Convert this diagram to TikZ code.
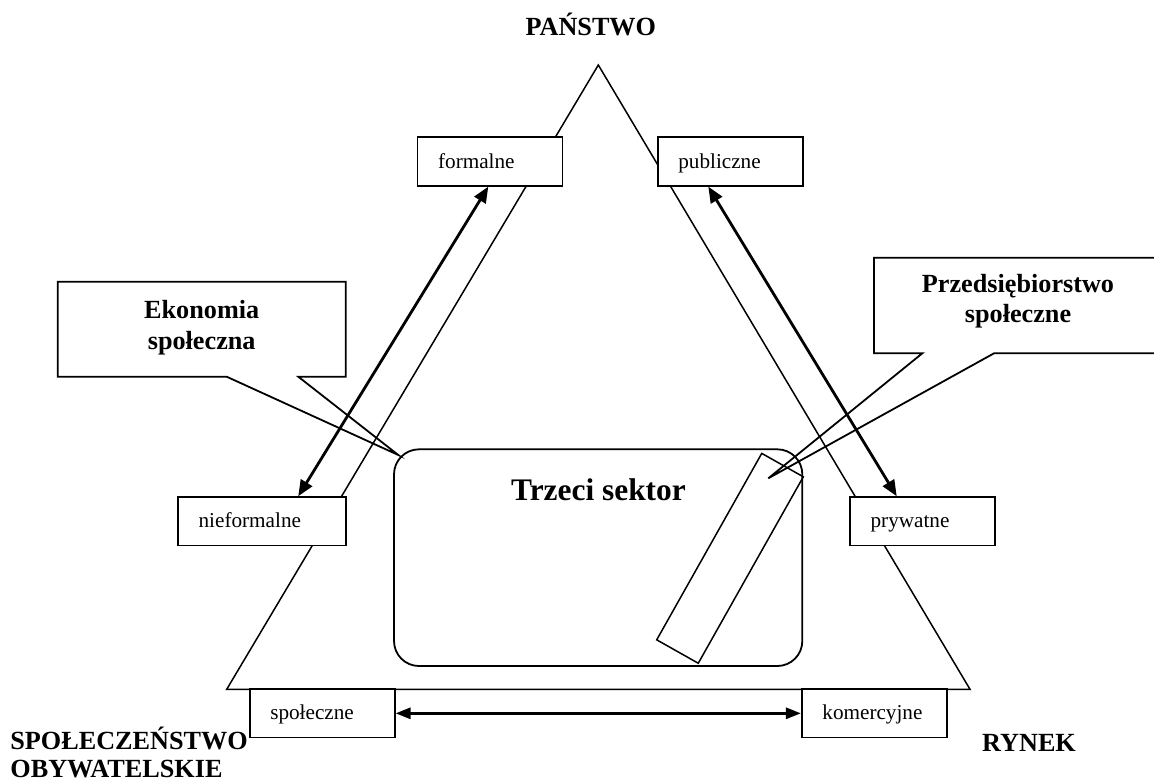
\documentclass[tikz,border=0pt]{standalone}
\usepackage{fontspec}
\setmainfont{Liberation Serif}
\usetikzlibrary{arrows.meta}
\begin{document}
\begin{tikzpicture}[x=0.5pt,y=-0.5pt,
  edgeline/.style={line width=0.75pt},
  boxst/.style={draw, line width=0.9pt, fill=white, minimum height=24.2pt,
    inner xsep=10.3pt, inner ysep=0pt, align=left, text width=51.9pt,
    text height=0.7em, text depth=0.05em, font=\fontsize{10.6}{12}\selectfont},
  lbl/.style={font=\fontsize{13.1}{14}\selectfont\bfseries, inner sep=0pt},
  calloutbox/.style={line width=0.9pt},
  dblarrow/.style={line width=1.4pt, {Triangle[length=8pt,width=6.5pt]}-{Triangle[length=8pt,width=6.5pt]}},
  botarrow/.style={line width=1.4pt, {Triangle[length=7.5pt,width=5.5pt]}-{Triangle[length=7.5pt,width=5.5pt]}}
]
\useasboundingbox (0,0) rectangle (1154,782);

% triangle
\draw[edgeline] (598.3,65) -- (226.7,689.3) -- (970,689.3) -- cycle;

% third sector box
\draw[line width=0.9pt, rounded corners=12.5pt] (394,449.3) rectangle (802.3,666);
\node[font=\fontsize{15.7}{18}\selectfont\bfseries, inner sep=0pt, anchor=base] (trzeci) at (598.5,500) {Trzeci sektor};

% rotated strip
\node[draw, line width=0.75pt, minimum width=107pt, minimum height=23.85pt, rotate=60.6, inner sep=0pt] (pasek) at (730,558.3) {};

% boxes
\node[boxst] (formalne) at (490,161.5) {formalne};
\node[boxst] (publiczne) at (730.2,161.5) {publiczne};
\node[boxst, text width=63.25pt] (nieformalne) at (261.85,521.35) {nieformalne};
\node[boxst] (prywatne) at (922.5,521.35) {prywatne};
\node[boxst] (spoleczne) at (322.15,713.3) {społeczne};
\node[boxst] (komercyjne) at (874.3,713.3) {komercyjne};

% arrows
\draw[dblarrow] ([xshift=-0.85pt]formalne.south) -- ([xshift=18.2pt]nieformalne.north);
\draw[dblarrow] ([xshift=-10.95pt]publiczne.south) -- ([xshift=-12.9pt]prywatne.north);
\draw[botarrow] (spoleczne.east) -- (komercyjne.west);

% callouts
\draw[calloutbox] (57.7,281.7) -- (345.7,281.7) -- (345.7,376.7) -- (298.3,376.7)
  -- (398.3,455) -- (226.7,376.7) -- (57.7,376.7) -- cycle;
\node[lbl, align=center, font=\fontsize{13.1}{15.5}\selectfont\bfseries] (ekonomia) at (201.7,328) {Ekonomia\\społeczna};

\draw[calloutbox] (874,257.7) -- (1162,257.7) -- (1162,353.3) -- (994,353.3)
  -- (768.3,478.3) -- (922.3,353.3) -- (874,353.3) -- cycle;
\node[lbl, align=center, font=\fontsize{13.1}{15}\selectfont\bfseries] (przeds) at (1018,301) {Przedsiębiorstwo\\społeczne};

% corner labels
\node[lbl, anchor=base] (panstwo) at (590.8,35.7) {PAŃSTWO};
\node[lbl, anchor=base west, align=left, font=\fontsize{13.1}{14}\selectfont\bfseries] (spol) at (10,777) {SPOŁECZEŃSTWO\\OBYWATELSKIE};
\node[lbl, anchor=base] (rynek) at (1029,751.7) {RYNEK};
\end{tikzpicture}
\end{document}
